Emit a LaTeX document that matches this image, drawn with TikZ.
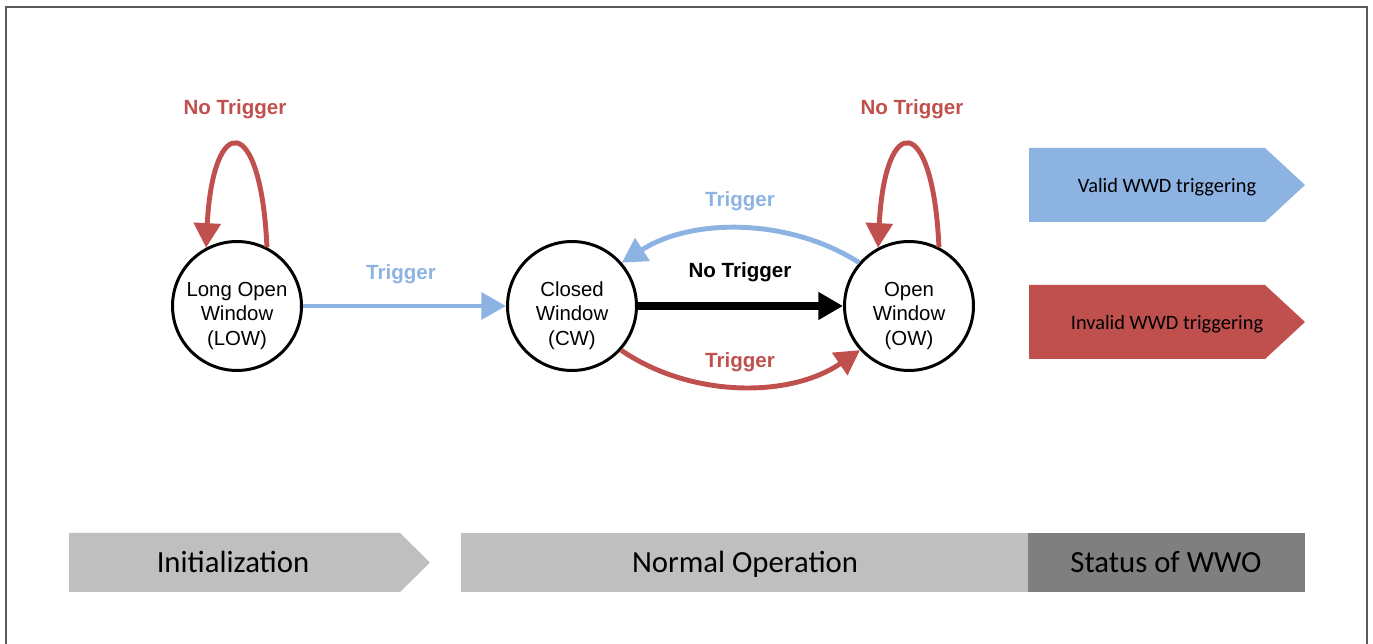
\documentclass[tikz,border=0pt]{standalone}
\usepackage{fontspec}
\setmainfont{Liberation Sans}
\newfontfamily\calibri{Carlito}
\usepackage{tikz}
\usetikzlibrary{arrows.meta}
\definecolor{trigred}{HTML}{C0504D}
\definecolor{trigblue}{HTML}{8DB3E2}
\definecolor{barlight}{HTML}{BFBFBF}
\definecolor{bardark}{HTML}{7F7F7F}
\newcommand{\createtag}[3]{\fill[#1] (1029,#2) -- (1265,#2) -- (1305,{(#2+#3)/2}) -- (1265,#3) -- (1029,#3) -- cycle;}

\begin{document}
\begin{tikzpicture}[x=0.02cm, y=-0.02cm,
        state/.style={draw, circle, line width=1.7pt, minimum size=2.58cm, inner sep=0pt},
        statetext/.style={align=center, font=\fontsize{11.6pt}{13.9pt}\selectfont},
        lbl/.style={font=\fontsize{11.7pt}{13pt}\selectfont\bfseries},
        tagtext/.style={anchor=base, font=\calibri\fontsize{11.6pt}{13pt}\selectfont},
        bartext/.style={anchor=base, font=\calibri\fontsize{17.5pt}{20pt}\selectfont},
        edge/.style={line width=2.8pt, -{Triangle[length=14pt,width=15pt]}}]
        \useasboundingbox (0,0) rectangle (1373,644);
        \draw[black!65, line width=0.85pt] (6,644) -- (6,7) -- (1367,7) -- (1367,644);
        %states
        \node[state] (LOW) at (237,306) {};
        \node[state] (CW) at (572,306) {};
        \node[state] (OW) at (909,306) {};
        \node[statetext] (LOWtext) at ([yshift=-5.5pt]LOW) {Long Open\\Window\\(LOW)};
        \node[statetext] (CWtext) at ([yshift=-5.5pt]CW) {Closed\\Window\\(CW)};
        \node[statetext] (OWtext) at ([yshift=-5.5pt]OW) {Open\\Window\\(OW)};

        \draw[edge, trigred] (LOW.63) .. controls +(-6,-135) and +(7,-136) .. (LOW.118);
        \draw[edge, trigred] (OW.63) .. controls +(-6,-135) and +(7,-136) .. (OW.118);
        \draw[edge, trigblue] (LOW) -- (CW);
        \draw[edge, black, line width=4pt] (CW) -- (OW);
        \draw[edge, trigblue] (OW.139) .. controls +(-70,-45) and +(70,-45) .. (CW.41);
        \draw[edge, trigred] (CW.-42) .. controls +(70,48) and +(-70,48) .. (OW.-138);

        \node[lbl, trigred] (noLOW) at (235,109) {No Trigger};
        \node[lbl, trigred] (noOW) at (912,109) {No Trigger};
        \node[lbl, trigblue] (trLOW) at (401,274) {Trigger};
        \node[lbl, trigblue] (trOW) at (740,201) {Trigger};
        \node[lbl] (noCW) at (740,272) {No Trigger};
        \node[lbl, trigred] (trCW) at (740,362) {Trigger};

        %legend
        \createtag{trigblue}{148}{222}
        \createtag{trigred}{285}{359}
        \node[tagtext] (valid) at (1167,193) {Valid WWD triggering};
        \node[tagtext] (invalid) at (1167,330) {Invalid WWD triggering};

        %phases
        \fill[barlight] (69,533) -- (400,533) -- (430,562.5) -- (400,592) -- (69,592) -- cycle;
        \fill[barlight] (461,533) rectangle (1028,592);
        \fill[bardark] (1028,533) rectangle (1305,592);
        \node[bartext] (init) at (233,573) {Initialization};
        \node[bartext] (normal) at (745,573) {Normal Operation};
        \node[bartext] (status) at (1166,573) {Status of WWO};
    \end{tikzpicture}
\end{document}
